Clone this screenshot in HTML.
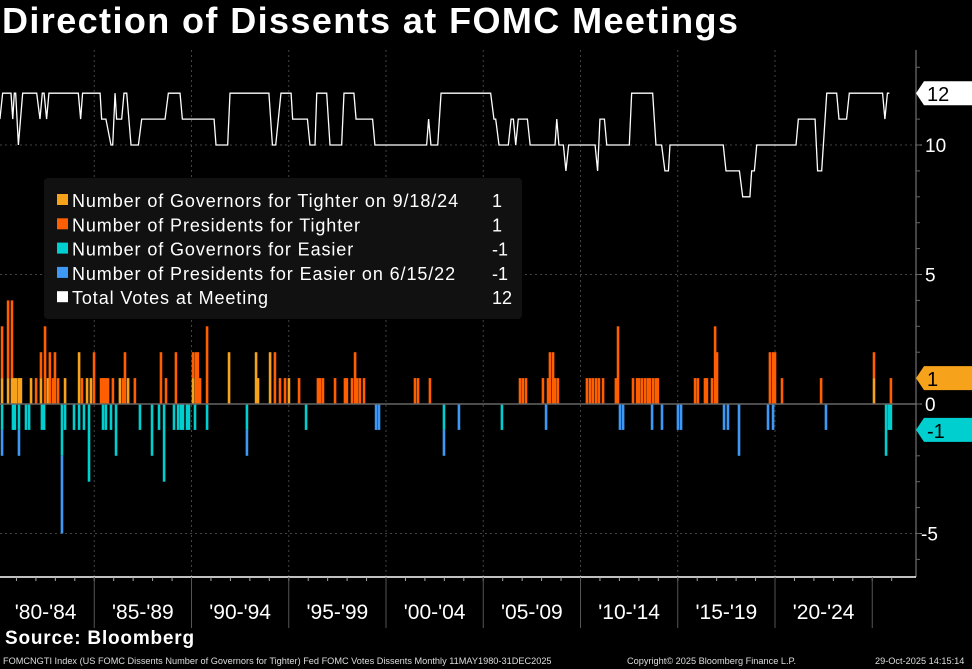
<!DOCTYPE html>
<html><head><meta charset="utf-8">
<style>
html,body{margin:0;padding:0;background:#000;width:972px;height:669px;overflow:hidden;font-family:"Liberation Sans",sans-serif;color:#fff}
#title{position:absolute;left:2px;top:0px;font-size:36px;font-weight:bold;letter-spacing:1.4px;white-space:nowrap}
#src{position:absolute;left:5px;top:628px;font-size:19px;font-weight:bold;letter-spacing:0.8px}
.foot{position:absolute;top:656px;font-size:9.2px;color:#ddd;white-space:nowrap}
svg{position:absolute;left:0;top:0}
</style></head>
<body>
<div id="title">Direction of Dissents at FOMC Meetings</div>
<div id="src">Source: Bloomberg</div>
<div class="foot" style="left:3px">FOMCNGTI Index (US FOMC Dissents Number of Governors for Tighter) Fed FOMC Votes Dissents Monthly 11MAY1980-31DEC2025</div>
<div class="foot" style="left:627px">Copyright© 2025 Bloomberg Finance L.P.</div>
<div class="foot" style="left:875px">29-Oct-2025 14:15:14</div>
<svg id="chart" width="972" height="669"></svg>
<script>
// Tighter dissents
const tightDates=[1980.26,1980.57,1980.77,1980.87,1980.98,1981.13,1981.23,1981.75,1982.01,1982.26,1982.47,1982.62,1982.72,1982.88,1982.98,1983.14,1983.50,1984.22,1984.37,1984.63,1984.83,1984.99,1985.35,1985.45,1985.50,1985.60,1985.71,1985.96,1986.32,1986.48,1986.58,1986.74,1987.09,1988.43,1988.69,1989.20,1990.08,1990.23,1990.33,1990.44,1990.80,1991.93,1993.32,1993.42,1994.04,1994.29,1994.55,1994.81,1995.01,1995.53,1996.50,1996.61,1996.76,1997.38,1997.89,1997.99,1998.25,1998.41,1998.51,1998.66,1998.87,2001.49,2001.65,2002.26,2006.89,2007.04,2007.20,2008.07,2008.33,2008.43,2008.59,2008.69,2008.84,2010.33,2010.49,2010.64,2010.80,2010.95,2011.16,2011.82,2011.93,2012.70,2012.91,2013.01,2013.16,2013.32,2013.47,2013.57,2013.73,2013.88,2013.98,2015.89,2016.04,2016.40,2016.50,2016.76,2016.92,2017.02,2019.74,2019.90,2020.00,2020.36,2022.37,2024.83,2025.09,2025.96];
const govTighter=[1,1,1,1,1,1,1,1,0,1,0,1,0,0,0,0,1,2,0,1,1,0,0,0,0,0,0,0,1,0,0,1,0,0,0,0,1,0,0,0,0,2,2,1,2,0,0,0,1,0,0,0,0,0,0,0,0,0,0,0,0,0,0,0,0,0,0,0,0,0,0,0,0,0,0,0,0,0,0,0,0,0,0,0,0,0,0,0,0,0,0,0,0,0,0,0,0,0,0,0,0,0,0,0,1,0,0];
const presTighter=[2,3,3,0,0,0,0,0,1,1,3,0,2,1,2,1,0,0,1,0,0,2,1,1,1,1,1,1,0,1,2,0,1,2,1,2,1,2,2,1,3,0,0,0,0,2,1,1,0,1,1,1,1,1,1,1,1,2,1,1,1,1,1,1,1,1,1,1,1,2,2,1,1,1,1,1,1,1,1,1,3,1,1,1,1,1,1,1,1,1,1,1,1,1,1,1,3,2,2,2,2,1,1,0,1,1];
// Easier dissents (negative)
const easyDates=[1980.26,1980.82,1980.92,1981.13,1981.49,1981.65,1982.31,1982.42,1983.34,1983.50,1983.96,1984.22,1984.47,1984.73,1985.45,1985.60,1985.86,1986.12,1987.35,1987.97,1988.33,1988.59,1989.10,1989.31,1989.46,1989.56,1989.77,1989.87,1990.18,1990.80,1992.85,1995.89,1999.49,1999.64,2002.98,2003.75,2005.96,2008.23,2012.03,2012.19,2013.68,2014.19,2015.01,2015.17,2017.38,2017.58,2018.15,2019.64,2019.90,2022.62,2025.71,2025.86,2025.96];
const govEasier=[-1,-1,-1,-1,-1,-1,-1,-1,-2,-1,-1,-1,-1,-3,-1,-1,-1,-2,-1,-2,-1,-3,-1,-1,-1,-1,-1,-1,-1,-1,-1,-1,0,0,-1,0,-1,0,0,0,0,0,0,0,0,0,0,0,0,0,-2,-1,-1];
const presEasier=[-1,0,0,-1,0,0,0,0,-3,0,0,0,0,0,0,0,0,0,0,0,0,0,0,0,0,0,0,0,0,0,-1,0,-1,-1,-1,-1,0,-1,-1,-1,-1,-1,-1,-1,-1,-1,-2,-1,-1,-1,0,0,0];
// Total votes
const voteDates=[1980.15,1980.29,1980.72,1980.81,1980.89,1980.96,1981.10,1981.32,1982.04,1982.21,1982.33,1982.42,1982.55,1982.67,1984.18,1984.30,1984.40,1985.30,1985.38,1985.60,1985.86,1985.95,1986.07,1986.15,1986.41,1986.53,1986.67,1986.89,1987.27,1987.44,1988.64,1988.81,1989.41,1989.53,1991.16,1991.26,1991.86,1991.98,1993.98,1994.16,1994.33,1994.60,1995.12,1995.20,1995.96,1996.09,1996.35,1996.44,1996.95,1997.12,1997.72,1997.84,1998.35,1998.46,1999.31,1999.43,2002.09,2002.19,2002.31,2002.66,2002.83,2005.38,2005.55,2005.64,2005.81,2006.29,2006.43,2006.55,2006.67,2006.80,2007.27,2007.41,2008.69,2008.78,2008.89,2009.12,2009.25,2009.39,2010.75,2010.88,2011.00,2011.23,2011.35,2012.51,2012.63,2013.71,2013.88,2014.17,2014.34,2014.52,2014.60,2017.34,2017.48,2018.17,2018.34,2018.71,2018.80,2018.94,2019.06,2021.08,2021.20,2022.06,2022.19,2022.40,2022.66,2023.17,2023.29,2023.68,2023.82,2025.53,2025.65,2025.78,2025.88];
const totalVotes=[11,12,12,11,12,12,10,12,12,11,12,12,11,12,12,11,12,12,11,11,10,10,12,11,11,12,12,10,10,11,11,12,12,11,11,10,10,12,12,10,10,12,12,11,11,10,10,12,12,10,10,12,12,11,11,10,10,11,10,10,12,12,11,11,10,10,11,11,10,11,11,10,10,11,10,10,9,10,10,9,11,11,10,10,12,12,10,10,9,9,10,10,9,9,8,8,9,9,10,10,11,11,9,9,12,12,11,11,12,12,11,12,12];
const yTicks=[10,5,0,-5];
const periodLabels=["'80-'84","'85-'89","'90-'94","'95-'99","'00-'04","'05-'09","'10-'14","'15-'19","'20-'24"];
const periodStarts=[1980,1985,1990,1995,2000,2005,2010,2015,2020];
const legendLabels=["Number of Governors for Tighter on 9/18/24","Number of Presidents for Tighter","Number of Governors for Easier","Number of Presidents for Easier on 6/15/22","Total Votes at Meeting"];
const legendValues=["1","1","-1","-1","12"];

const NS="http://www.w3.org/2000/svg";
const svg=document.getElementById('chart');
const C={gT:'#f7a21b',pT:'#ff5f00',gE:'#00cfd0',pE:'#3d99f5',tot:'#ffffff'};
const x=d=>-3+(d-1980)*19.45;
const y=v=>404-v*25.9;
function mk(tag,attrs,parent){const e=document.createElementNS(NS,tag);for(const k in attrs)e.setAttribute(k,attrs[k]);(parent||svg).appendChild(e);return e;}
function txt(s,attrs){const t=mk('text',attrs);t.textContent=s;return t;}

// grid
periodStarts.slice(1).forEach(p=>{
  const g=mk('line',{x1:x(p),x2:x(p),y1:50,y2:577,stroke:'#444','stroke-dasharray':'2,3'});
  
  
});
yTicks.filter(v=>v!==0).forEach(v=>{
  const g=mk('line',{x1:0,x2:916,y1:y(v),y2:y(v),stroke:'#444','stroke-dasharray':'2,3'});
  
  
});

// legend
const lg=mk('g',{});


mk('rect',{x:44,y:178,width:478,height:141,rx:4,fill:'#111'},lg);
const lc=[C.gT,C.pT,C.gE,C.pE,C.tot];
legendLabels.forEach((l,i)=>{
  const yy=207+i*24.3;
  const r=mk('rect',{x:57,y:yy-13,width:11,height:11,fill:lc[i]},lg);
  
  
  const t=mk('text',{x:72,y:yy,fill:'#fff','font-size':'18','letter-spacing':'0.9'},lg);t.textContent=l;
  
  
  const v=mk('text',{x:492,y:yy,fill:'#fff','font-size':'18'},lg);v.textContent=legendValues[i];
  
  
});

// bars
const bw=2.6;
function bar(d,v0,v1,col,name){
  if(v0===v1)return;
  const r=mk('rect',{x:x(d)-bw/2,y:Math.min(y(v0),y(v1)),width:bw,height:Math.abs(y(v1)-y(v0)),fill:col});
  
  
}
tightDates.forEach((d,i)=>{bar(d,0,govTighter[i],C.gT,'bar-gov-tighter');bar(d,govTighter[i],govTighter[i]+presTighter[i],C.pT,'bar-pres-tighter');});
easyDates.forEach((d,i)=>{bar(d,0,govEasier[i],C.gE,'bar-gov-easier');bar(d,govEasier[i],govEasier[i]+presEasier[i],C.pE,'bar-pres-easier');});

// zero line
const z=mk('line',{x1:0,x2:916,y1:y(0),y2:y(0),stroke:'#666','stroke-width':1.5});



// total votes line
const pl=mk('polyline',{points:voteDates.map((d,i)=>x(d)+','+y(totalVotes[i])).join(' '),fill:'none',stroke:C.tot,'stroke-width':1.3});



// axes
const ya=mk('line',{x1:916,x2:916,y1:50,y2:577,stroke:'#888'});


yTicks.forEach(v=>{
  mk('line',{x1:916,x2:922,y1:y(v),y2:y(v),stroke:'#888'});
  const t=txt(String(v),{x:v<0?921:925,y:y(v)+7,fill:'#fff','font-size':'19'});
  
  
});
for(let v=-6;v<=13;v++){mk('line',{x1:916,x2:920,y1:y(v),y2:y(v),stroke:'#666'});}
const xa=mk('line',{x1:0,x2:916,y1:577,y2:577,stroke:'#fff','stroke-width':1.5});


for(let yr=1980;yr<=2026;yr++){mk('line',{x1:x(yr),x2:x(yr),y1:577,y2:581,stroke:'#aaa'});}
periodStarts.forEach((p,i)=>{
  if(i>0){mk('line',{x1:x(p),x2:x(p),y1:577,y2:628,stroke:'#555'});}
  const t=txt(periodLabels[i],{x:x(p+2.5),y:619,fill:'#fff','font-size':'21','text-anchor':'middle','font-family':'Liberation Sans Narrow, Liberation Sans, sans-serif'});
  
  
});
mk('line',{x1:x(2025),x2:x(2025),y1:577,y2:628,stroke:'#555'});

// badges
function badge(v,label,bg,fg,name){
  const yy=y(v);
  const g=mk('g',{});
  
  
  mk('polygon',{points:`916,${yy} 924,${yy-12} 972,${yy-12} 972,${yy+12} 924,${yy+12}`,fill:bg},g);
  const t=mk('text',{x:927,y:yy+8,fill:fg,'font-size':'20'},g);t.textContent=label;
}
badge(totalVotes[totalVotes.length-1],'12','#fff','#000','badge-total-votes');
badge(presTighter[presTighter.length-1],'1','#f7a21b','#000','badge-tighter');
badge(govEasier[govEasier.length-1],'-1','#00cfd0','#000','badge-easier');
</script>
</body></html>
